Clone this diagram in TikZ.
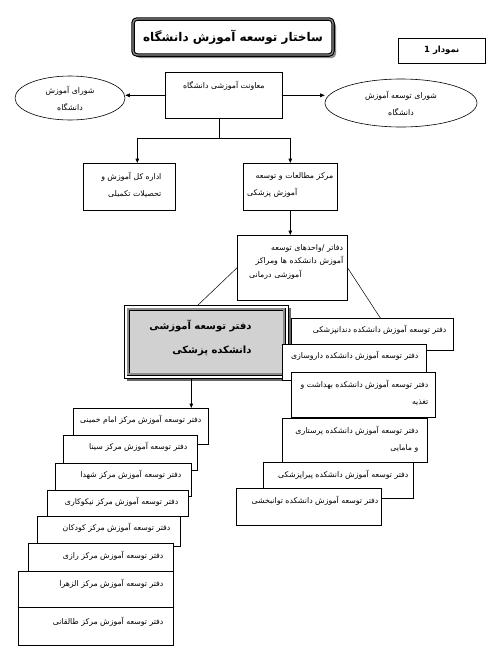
\documentclass[tikz,border=0pt]{standalone}
\usepackage{fontspec}
\usepackage{tikz}
\usetikzlibrary{arrows.meta,shapes.geometric,shadows,calc}
\newfontfamily\fa[Script=Arabic]{DejaVu Sans}
\TeXXeTstate=1
\tikzset{
  orgbox/.style={draw=black, fill=white, line width=0.6pt, inner sep=0pt, anchor=north west},
  orgtext/.style={font=\fa\fontsize{7.8}{17}\selectfont, inner sep=0pt, align=right, anchor=north east},
  orgoval/.style={ellipse, draw=black, fill=white, line width=0.6pt, inner sep=0pt, align=center, font=\fa\fontsize{7.8}{17}\selectfont},
  orgtitle/.style={draw=black, fill=white, rounded corners=4pt, line width=1.1pt, double=black!45, double distance=1.3pt, drop shadow={shadow xshift=3pt, shadow yshift=-3pt, fill=black!45, opacity=1}, inner sep=0pt, font=\fa\bfseries\fontsize{12}{14}\selectfont},
  orgframe/.style={draw=black, fill=white, line width=0.6pt, inner sep=0pt, anchor=north west, drop shadow={shadow xshift=2.5pt, shadow yshift=-2.5pt, fill=black!60, opacity=1}},
  orgfaculty/.style={draw=black, fill=black!18, line width=0.7pt, double=black!45, double distance=1.8pt, inner sep=0pt, anchor=north west},
  orgbig/.style={font=\fa\bfseries\fontsize{10}{24}\selectfont, inner sep=0pt, align=right, anchor=north east},
  orgarrow/.style={-{Triangle[length=4.5pt,width=3.6pt]}, line width=0.6pt},
  orgline/.style={line width=0.5pt},
}
\begin{document}
\begin{tikzpicture}[x=1pt, y=-1pt]
\useasboundingbox (0,0) rectangle (500,662);
\node[orgtitle, minimum width=200pt, minimum height=36pt] (title) at (233,37) {\beginR ساختار توسعه آموزش دانشگاه\endR};
\node[orgbox, minimum width=87pt, minimum height=25pt, font=\fa\bfseries\fontsize{8.5}{10}\selectfont] (chart) at (398,38) {\beginR نمودار 1\endR};

\node[orgbox, minimum width=117pt, minimum height=46pt] (vice) at (165,72) {};
\node[orgtext, anchor=north] (vicetxt) at ([shift={(0,9)}]vice.north) {\beginR معاونت آموزشی دانشگاه\endR};
\node[orgoval, minimum width=110pt, minimum height=44pt] (council) at (70,98) {\beginR شورای آموزش\endR\\\beginR دانشگاه\endR};
\node[orgoval, minimum width=152pt, minimum height=48pt] (devcouncil) at (401,103) {\beginR شورای توسعه آموزش\endR\\\beginR دانشگاه\endR};
\draw[orgarrow] (vice.west) -- (vice.west -| council.east);
\draw[orgarrow] (vice.east) -- (vice.east -| devcouncil.west);

\node[orgbox, minimum width=92pt, minimum height=47pt] (grad) at (83,163) {};
\node[orgtext] (gradtxt) at ([shift={(-14,9)}]grad.north east) {\beginR اداره کل آموزش و\endR\\\beginR تحصیلات تکمیلی\endR};
\node[orgbox, minimum width=94pt, minimum height=47pt] (research) at (243,163) {};
\node[orgtext, anchor=north west, text width=86pt] (researchtxt) at ([shift={(4,9)}]research.north west) {\beginR مرکز مطالعات و توسعه\endR\\\makebox[\linewidth][l]{\beginR آموزش پزشکی\endR}};
\coordinate (split) at ([shift={(-5,20)}]vice.south);
\draw[orgline] ([xshift=-5pt]vice.south) -- (split);
\draw[orgarrow] (split) -| ([xshift=8pt]grad.north);
\draw[orgarrow] (split) -| (research.north);

\node[orgbox, minimum width=110pt, minimum height=65pt] (daftar) at (237,235) {};
\node[orgtext, anchor=north west, text width=94pt, font=\fa\fontsize{7.8}{13.5}\selectfont] (daftartxt) at ([shift={(12,9)}]daftar.north west) {\beginR دفاتر /واحدهای توسعه\endR\\\beginR آموزش دانشکده ها  ومراکز\endR\\\makebox[\linewidth][l]{\beginR آموزشی درمانی\endR}};
\draw[orgarrow] (research.south) -- (research.south |- daftar.north);

\node[orgframe, minimum width=164pt, minimum height=73pt] (frame) at (124,305) {};
\node[orgfaculty, minimum width=156pt, minimum height=65pt] (faculty) at (128,309) {};
\node[orgbig] (facultytxt) at ([shift={(-33,11)}]faculty.north east) {\beginR دفتر توسعه آموزشی\endR\\\beginR دانشکده پزشکی\endR};

\node[orgbox, minimum width=162pt, minimum height=32pt] (dent) at (291,318) {};
\node[orgtext] (denttxt) at ([shift={(-7,7)}]dent.north east) {\beginR دفتر توسعه آموزش دانشکده دندانپزشکی\endR};
\node[orgbox, minimum width=144pt, minimum height=36pt] (pharm) at (282,344) {};
\node[orgtext] (pharmtxt) at ([shift={(-8,7)}]pharm.north east) {\beginR دفتر توسعه آموزش دانشکده داروسازی\endR};
\node[orgbox, minimum width=144pt, minimum height=45pt] (health) at (291,372) {};
\node[orgtext] (healthtxt) at ([shift={(-7,8)}]health.north east) {\beginR دفتر توسعه آموزش دانشکده بهداشت و\endR\\\beginR تغذیه\endR};
\node[orgbox, minimum width=145pt, minimum height=44pt] (nursing) at (282,418) {};
\node[orgtext] (nursingtxt) at ([shift={(-9,8)}]nursing.north east) {\beginR دفتر توسعه آموزش دانشکده پرستاری\endR\\\beginR و مامایی\endR};
\node[orgbox, minimum width=150pt, minimum height=36pt] (para) at (263,462) {};
\node[orgtext] (paratxt) at ([shift={(-5,8)}]para.north east) {\beginR دفتر توسعه آموزش دانشکده پیراپزشکی\endR};
\node[orgbox, minimum width=145pt, minimum height=37pt] (rehab) at (236,488) {};
\node[orgtext] (rehabtxt) at ([shift={(-3,8)}]rehab.north east) {\beginR دفتر توسعه آموزش دانشکده توانبخشی\endR};

\draw[orgline] (daftar.west) -- ($(frame.north west)!0.45!(frame.north east)$);
\draw[orgline] (daftar.east) -- ([xshift=8pt]dent.north);

\node[orgbox, minimum width=135pt, minimum height=36pt] (khomeini) at (73,408) {};
\node[orgtext] (khomeinitxt) at ([shift={(-7,7)}]khomeini.north east) {\beginR دفتر توسعه آموزش مرکز امام خمینی\endR};
\node[orgbox, minimum width=134pt, minimum height=35pt] (sina) at (63,435) {};
\node[orgtext] (sinatxt) at ([shift={(-10,7)}]sina.north east) {\beginR دفتر توسعه آموزش مرکز سینا\endR};
\node[orgbox, minimum width=136pt, minimum height=33pt] (shohada) at (55,463) {};
\node[orgtext] (shohadatxt) at ([shift={(-10,7)}]shohada.north east) {\beginR دفتر توسعه آموزش مرکز شهدا\endR};
\node[orgbox, minimum width=141pt, minimum height=26pt] (nikokari) at (47,490) {};
\node[orgtext] (nikokaritxt) at ([shift={(-10,7)}]nikokari.north east) {\beginR دفتر توسعه آموزش مرکز نیکوکاری\endR};
\node[orgbox, minimum width=143pt, minimum height=30pt] (kudakan) at (37,516) {};
\node[orgtext] (kudakantxt) at ([shift={(-10,7)}]kudakan.north east) {\beginR دفتر توسعه آموزش مرکز کودکان\endR};
\node[orgbox, minimum width=145pt, minimum height=37pt] (razi) at (28,543) {};
\node[orgtext] (razitxt) at ([shift={(-10,8)}]razi.north east) {\beginR دفتر توسعه آموزش مرکز رازی\endR};
\node[orgbox, minimum width=155pt, minimum height=36pt] (zahra) at (18,571) {};
\node[orgtext] (zahratxt) at ([shift={(-10,8)}]zahra.north east) {\beginR دفتر توسعه آموزش مرکز الزهرا\endR};
\node[orgbox, minimum width=155pt, minimum height=38pt] (taleghani) at (18,607) {};
\node[orgtext] (taleghanitxt) at ([shift={(-10,10)}]taleghani.north east) {\beginR دفتر توسعه آموزش مرکز طالقانی\endR};

\draw[orgarrow] ([xshift=-15pt]frame.south) -- ([xshift=-15pt]frame.south |- khomeini.north);
\end{tikzpicture}
\end{document}
